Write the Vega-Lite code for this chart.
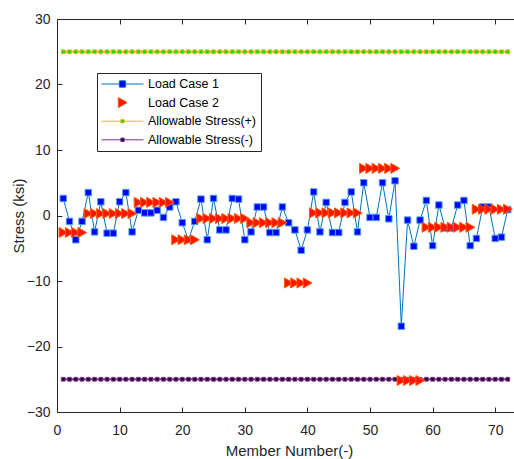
{
  "$schema": "https://vega.github.io/schema/vega-lite/v6.json",
  "width": 457,
  "height": 393,
  "autosize": {"type": "none"},
  "padding": {"left": 57, "top": 19, "right": 0, "bottom": 47},
  "background": "white",
  "config": {"view": {"stroke": null}, "font": "Liberation Sans"},
  "datasets": {
    "lc1": [
      {"member":1,"stress":2.6},{"member":2,"stress":-0.9},{"member":3,"stress":-3.7},{"member":4,"stress":-0.9},
      {"member":5,"stress":3.5},{"member":6,"stress":-2.5},{"member":7,"stress":2.1},{"member":8,"stress":-2.7},
      {"member":9,"stress":-2.7},{"member":10,"stress":2.1},{"member":11,"stress":3.5},{"member":12,"stress":-2.5},
      {"member":13,"stress":0.8},{"member":14,"stress":0.4},{"member":15,"stress":0.4},{"member":16,"stress":0.8},
      {"member":17,"stress":-0.3},{"member":18,"stress":1.3},{"member":19,"stress":2.1},{"member":20,"stress":-1.1},
      {"member":21,"stress":-3.7},{"member":22,"stress":-0.9},{"member":23,"stress":2.5},{"member":24,"stress":-3.7},
      {"member":25,"stress":2.6},{"member":26,"stress":-2.2},{"member":27,"stress":-2.2},{"member":28,"stress":2.6},
      {"member":29,"stress":2.5},{"member":30,"stress":-3.7},{"member":31,"stress":-2.5},{"member":32,"stress":1.3},
      {"member":33,"stress":1.3},{"member":34,"stress":-2.6},{"member":35,"stress":-2.6},{"member":36,"stress":1.3},
      {"member":37,"stress":-1.1},{"member":38,"stress":-2.2},{"member":39,"stress":-5.3},{"member":40,"stress":-2.2},
      {"member":41,"stress":3.6},{"member":42,"stress":-2.5},{"member":43,"stress":2.0},{"member":44,"stress":-2.6},
      {"member":45,"stress":-2.6},{"member":46,"stress":2.0},{"member":47,"stress":3.6},{"member":48,"stress":-2.5},
      {"member":49,"stress":5.0},{"member":50,"stress":-0.3},{"member":51,"stress":-0.3},{"member":52,"stress":5.0},
      {"member":53,"stress":-0.5},{"member":54,"stress":5.3},{"member":55,"stress":-16.9},{"member":56,"stress":-0.7},
      {"member":57,"stress":-4.7},{"member":58,"stress":-0.7},{"member":59,"stress":2.3},{"member":60,"stress":-4.6},
      {"member":61,"stress":1.6},{"member":62,"stress":-1.9},{"member":63,"stress":-1.9},{"member":64,"stress":1.6},
      {"member":65,"stress":2.3},{"member":66,"stress":-4.6},{"member":67,"stress":-3.5},{"member":68,"stress":1.3},
      {"member":69,"stress":1.3},{"member":70,"stress":-3.5},{"member":71,"stress":-3.3},{"member":72,"stress":0.9}
    ],
    "lc2": [
      {"member":1,"stress":-2.6},{"member":2,"stress":-2.6},{"member":3,"stress":-2.6},{"member":4,"stress":-2.6},
      {"member":5,"stress":0.3},{"member":6,"stress":0.3},{"member":7,"stress":0.3},{"member":8,"stress":0.3},
      {"member":9,"stress":0.3},{"member":10,"stress":0.3},{"member":11,"stress":0.3},{"member":12,"stress":0.3},
      {"member":13,"stress":2.0},{"member":14,"stress":2.0},{"member":15,"stress":2.0},{"member":16,"stress":2.0},
      {"member":17,"stress":2.0},{"member":18,"stress":2.0},{"member":19,"stress":-3.7},{"member":20,"stress":-3.7},
      {"member":21,"stress":-3.7},{"member":22,"stress":-3.7},{"member":23,"stress":-0.45},{"member":24,"stress":-0.45},
      {"member":25,"stress":-0.45},{"member":26,"stress":-0.45},{"member":27,"stress":-0.45},{"member":28,"stress":-0.45},
      {"member":29,"stress":-0.45},{"member":30,"stress":-0.45},{"member":31,"stress":-1.1},{"member":32,"stress":-1.1},
      {"member":33,"stress":-1.1},{"member":34,"stress":-1.1},{"member":35,"stress":-1.1},{"member":36,"stress":-1.1},
      {"member":37,"stress":-10.3},{"member":38,"stress":-10.3},{"member":39,"stress":-10.3},{"member":40,"stress":-10.3},
      {"member":41,"stress":0.4},{"member":42,"stress":0.4},{"member":43,"stress":0.4},{"member":44,"stress":0.4},
      {"member":45,"stress":0.4},{"member":46,"stress":0.4},{"member":47,"stress":0.4},{"member":48,"stress":0.4},
      {"member":49,"stress":7.2},{"member":50,"stress":7.2},{"member":51,"stress":7.2},{"member":52,"stress":7.2},
      {"member":53,"stress":7.2},{"member":54,"stress":7.2},{"member":55,"stress":-25.2},{"member":56,"stress":-25.2},
      {"member":57,"stress":-25.2},{"member":58,"stress":-25.2},{"member":59,"stress":-1.8},{"member":60,"stress":-1.8},
      {"member":61,"stress":-1.8},{"member":62,"stress":-1.8},{"member":63,"stress":-1.8},{"member":64,"stress":-1.8},
      {"member":65,"stress":-1.8},{"member":66,"stress":-1.8},{"member":67,"stress":0.95},{"member":68,"stress":0.95},
      {"member":69,"stress":0.95},{"member":70,"stress":0.95},{"member":71,"stress":0.95},{"member":72,"stress":0.95}
    ],
    "ap": [
      {"member":1,"stress":25},{"member":2,"stress":25},{"member":3,"stress":25},{"member":4,"stress":25},{"member":5,"stress":25},{"member":6,"stress":25},
      {"member":7,"stress":25},{"member":8,"stress":25},{"member":9,"stress":25},{"member":10,"stress":25},{"member":11,"stress":25},{"member":12,"stress":25},
      {"member":13,"stress":25},{"member":14,"stress":25},{"member":15,"stress":25},{"member":16,"stress":25},{"member":17,"stress":25},{"member":18,"stress":25},
      {"member":19,"stress":25},{"member":20,"stress":25},{"member":21,"stress":25},{"member":22,"stress":25},{"member":23,"stress":25},{"member":24,"stress":25},
      {"member":25,"stress":25},{"member":26,"stress":25},{"member":27,"stress":25},{"member":28,"stress":25},{"member":29,"stress":25},{"member":30,"stress":25},
      {"member":31,"stress":25},{"member":32,"stress":25},{"member":33,"stress":25},{"member":34,"stress":25},{"member":35,"stress":25},{"member":36,"stress":25},
      {"member":37,"stress":25},{"member":38,"stress":25},{"member":39,"stress":25},{"member":40,"stress":25},{"member":41,"stress":25},{"member":42,"stress":25},
      {"member":43,"stress":25},{"member":44,"stress":25},{"member":45,"stress":25},{"member":46,"stress":25},{"member":47,"stress":25},{"member":48,"stress":25},
      {"member":49,"stress":25},{"member":50,"stress":25},{"member":51,"stress":25},{"member":52,"stress":25},{"member":53,"stress":25},{"member":54,"stress":25},
      {"member":55,"stress":25},{"member":56,"stress":25},{"member":57,"stress":25},{"member":58,"stress":25},{"member":59,"stress":25},{"member":60,"stress":25},
      {"member":61,"stress":25},{"member":62,"stress":25},{"member":63,"stress":25},{"member":64,"stress":25},{"member":65,"stress":25},{"member":66,"stress":25},
      {"member":67,"stress":25},{"member":68,"stress":25},{"member":69,"stress":25},{"member":70,"stress":25},{"member":71,"stress":25},{"member":72,"stress":25}
    ],
    "an": [
      {"member":1,"stress":-25},{"member":2,"stress":-25},{"member":3,"stress":-25},{"member":4,"stress":-25},{"member":5,"stress":-25},{"member":6,"stress":-25},
      {"member":7,"stress":-25},{"member":8,"stress":-25},{"member":9,"stress":-25},{"member":10,"stress":-25},{"member":11,"stress":-25},{"member":12,"stress":-25},
      {"member":13,"stress":-25},{"member":14,"stress":-25},{"member":15,"stress":-25},{"member":16,"stress":-25},{"member":17,"stress":-25},{"member":18,"stress":-25},
      {"member":19,"stress":-25},{"member":20,"stress":-25},{"member":21,"stress":-25},{"member":22,"stress":-25},{"member":23,"stress":-25},{"member":24,"stress":-25},
      {"member":25,"stress":-25},{"member":26,"stress":-25},{"member":27,"stress":-25},{"member":28,"stress":-25},{"member":29,"stress":-25},{"member":30,"stress":-25},
      {"member":31,"stress":-25},{"member":32,"stress":-25},{"member":33,"stress":-25},{"member":34,"stress":-25},{"member":35,"stress":-25},{"member":36,"stress":-25},
      {"member":37,"stress":-25},{"member":38,"stress":-25},{"member":39,"stress":-25},{"member":40,"stress":-25},{"member":41,"stress":-25},{"member":42,"stress":-25},
      {"member":43,"stress":-25},{"member":44,"stress":-25},{"member":45,"stress":-25},{"member":46,"stress":-25},{"member":47,"stress":-25},{"member":48,"stress":-25},
      {"member":49,"stress":-25},{"member":50,"stress":-25},{"member":51,"stress":-25},{"member":52,"stress":-25},{"member":53,"stress":-25},{"member":54,"stress":-25},
      {"member":55,"stress":-25},{"member":56,"stress":-25},{"member":57,"stress":-25},{"member":58,"stress":-25},{"member":59,"stress":-25},{"member":60,"stress":-25},
      {"member":61,"stress":-25},{"member":62,"stress":-25},{"member":63,"stress":-25},{"member":64,"stress":-25},{"member":65,"stress":-25},{"member":66,"stress":-25},
      {"member":67,"stress":-25},{"member":68,"stress":-25},{"member":69,"stress":-25},{"member":70,"stress":-25},{"member":71,"stress":-25},{"member":72,"stress":-25}
    ]
  },
  "layer": [
    {
      "data": {"name": "lc1"},
      "mark": {"type": "line", "color": "#0072BD", "strokeWidth": 1},
      "encoding": {
        "x": {"field": "member", "type": "quantitative", "scale": {"domain": [0, 73], "nice": false, "zero": false},
          "axis": {"orient": "bottom", "values": [0, 10, 20, 30, 40, 50, 60, 70], "title": "Member Number(-)", "grid": false,
            "tickSize": -5, "labelPadding": 16, "labelFlush": false, "labelOverlap": false,
            "domainColor": "#262626", "tickColor": "#262626", "labelColor": "#262626", "titleColor": "#262626",
            "labelFont": "Liberation Sans", "titleFont": "Liberation Sans", "labelFontSize": 14, "titleFontSize": 15,
            "titleFontWeight": "normal", "titleX": 232, "titleY": 43, "titleBaseline": "alphabetic", "titleAlign": "center"}},
        "y": {"field": "stress", "type": "quantitative", "scale": {"domain": [-30, 30], "nice": false, "zero": false},
          "axis": {"orient": "left", "values": [-30, -20, -10, 0, 10, 20, 30], "title": "Stress (ksi)", "grid": false,
            "tickSize": -5, "labelPadding": 12, "labelFlush": false, "labelOverlap": false,
            "domainColor": "#262626", "tickColor": "#262626", "labelColor": "#262626", "titleColor": "#262626",
            "labelFont": "Liberation Sans", "titleFont": "Liberation Sans", "labelFontSize": 14, "titleFontSize": 15,
            "titleFontWeight": "normal", "titleX": -39, "titleY": 196.5, "titleAngle": -90, "titleBaseline": "middle", "titleAlign": "center"}}
      }
    },
    {
      "data": {"name": "lc1"},
      "mark": {"type": "point", "shape": "square", "filled": true, "fill": "#0000FF", "stroke": "#4DA6E8", "strokeWidth": 1, "size": 42, "opacity": 1},
      "encoding": {
        "x": {"field": "member", "type": "quantitative", "axis": null},
        "y": {"field": "stress", "type": "quantitative", "axis": null}
      }
    },
    {
      "data": {"name": "ap"},
      "mark": {"type": "line", "color": "#EDB120", "strokeWidth": 2},
      "encoding": {
        "x": {"field": "member", "type": "quantitative",
          "axis": {"orient": "top", "values": [0, 10, 20, 30, 40, 50, 60, 70], "title": null, "labels": false, "grid": false,
            "tickSize": -5, "domainColor": "#262626", "tickColor": "#262626"}},
        "y": {"field": "stress", "type": "quantitative", "axis": null}
      }
    },
    {
      "data": {"name": "ap"},
      "mark": {"type": "point", "shape": "square", "filled": true, "fill": "#00E600", "stroke": "#EDB120", "strokeWidth": 1, "size": 14, "opacity": 1},
      "encoding": {
        "x": {"field": "member", "type": "quantitative", "axis": null},
        "y": {"field": "stress", "type": "quantitative", "axis": null}
      }
    },
    {
      "data": {"name": "an"},
      "mark": {"type": "line", "color": "#7E2F8E", "strokeWidth": 2},
      "encoding": {
        "x": {"field": "member", "type": "quantitative", "axis": null},
        "y": {"field": "stress", "type": "quantitative", "axis": null}
      }
    },
    {
      "data": {"name": "an"},
      "mark": {"type": "point", "shape": "square", "filled": true, "fill": "#1A0A22", "stroke": "#7E2F8E", "strokeWidth": 1, "size": 14, "opacity": 1},
      "encoding": {
        "x": {"field": "member", "type": "quantitative", "axis": null},
        "y": {"field": "stress", "type": "quantitative", "axis": null}
      }
    },
    {
      "data": {"name": "lc2"},
      "mark": {"type": "point", "filled": true, "strokeWidth": 1, "size": 1764, "opacity": 1},
      "encoding": {
        "x": {"field": "member", "type": "quantitative", "axis": null},
        "y": {"field": "stress", "type": "quantitative", "axis": null},
        "fill": {"datum": "Load Case 2", "type": "nominal",
          "scale": {"domain": ["Load Case 1", "Load Case 2", "Allowable Stress(+)", "Allowable Stress(-)"],
                    "range": ["#0000FF", "#FF1400", "#00E600", "#1A0A22"]},
          "legend": {"title": null, "orient": "none", "legendX": 40, "legendY": 54, "symbolSize": 1764, "symbolStrokeWidth": 1,
            "clipHeight": 14, "labelOffset": 4, "padding": 4, "rowPadding": 4.6, "strokeColor": "#262626", "fillColor": "white",
            "labelFont": "Liberation Sans", "labelFontSize": 12.5, "labelColor": "#000000"}},
        "stroke": {"datum": "Load Case 2", "type": "nominal",
          "scale": {"domain": ["Load Case 1", "Load Case 2", "Allowable Stress(+)", "Allowable Stress(-)"],
                    "range": ["#0072BD", "#FF5A00", "#EDB120", "#7E2F8E"]},
          "legend": {"title": null, "orient": "none", "legendX": 40, "legendY": 54, "symbolSize": 1764, "symbolStrokeWidth": 1,
            "clipHeight": 14, "labelOffset": 4, "padding": 4, "rowPadding": 4.6, "strokeColor": "#262626", "fillColor": "white",
            "labelFont": "Liberation Sans", "labelFontSize": 12.5, "labelColor": "#000000"}},
        "shape": {"datum": "Load Case 2", "type": "nominal",
          "scale": {"domain": ["Load Case 1", "Load Case 2", "Allowable Stress(+)", "Allowable Stress(-)"],
                    "range": ["M-1,0H-0.15M0.15,0H1M-0.15,-0.15H0.15V0.15H-0.15Z", "M-0.2,-0.24L0.22,0L-0.2,0.24Z", "M-1,0H-0.08M0.08,0H1M-0.08,-0.08H0.08V0.08H-0.08Z", "M-1,0H-0.08M0.08,0H1M-0.08,-0.08H0.08V0.08H-0.08Z"]},
          "legend": {"title": null, "orient": "none", "legendX": 40, "legendY": 54, "symbolSize": 1764, "symbolStrokeWidth": 1,
            "clipHeight": 14, "labelOffset": 4, "padding": 4, "rowPadding": 4.6, "strokeColor": "#262626", "fillColor": "white",
            "labelFont": "Liberation Sans", "labelFontSize": 12.5, "labelColor": "#000000"}}
      }
    }
  ],
  "resolve": {"axis": {"x": "independent", "y": "independent"}}
}
